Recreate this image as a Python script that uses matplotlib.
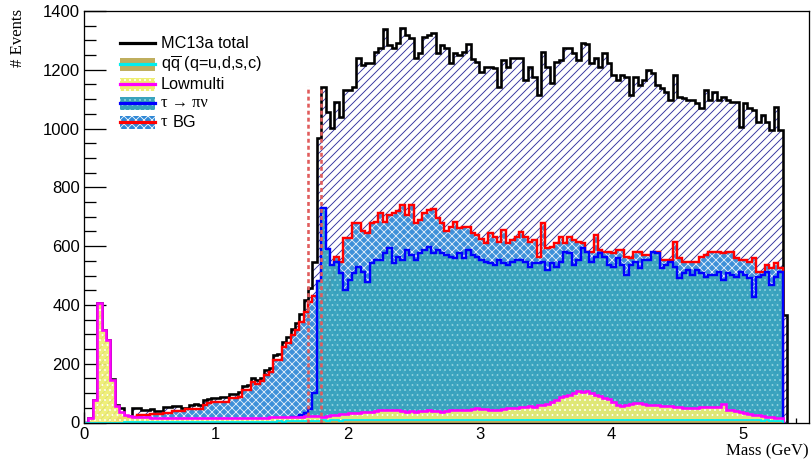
import numpy as np
import matplotlib
matplotlib.use("Agg")
import matplotlib.pyplot as plt
from matplotlib.patches import Rectangle
from matplotlib.lines import Line2D
from matplotlib.ticker import MultipleLocator

DPI = 120
W_PX, H_PX = 811, 466


def pt(px):
    """pixels -> points at the output resolution"""
    return px * 72.0 / DPI


# ---------------------------------------------------------------- data
BIN_WIDTH = 1.0 / 30.0   # GeV
X_MAX = 5.5
Y_MAX = 1400

# MC13a total (black outline, hatched)
total = [
    0, 14, 77, 408, 315, 281, 148, 60, 48, 22,
    22, 48, 48, 42, 42, 45, 40, 40, 54, 54,
    56, 56, 51, 51, 59, 62, 59, 75, 80, 85,
    84, 86, 86, 96, 98, 104, 124, 126, 152, 146,
    150, 178, 186, 230, 232, 275, 290, 318, 338, 368,
    417, 457, 547, 967, 1142, 1057, 1001, 1091, 1040, 1131,
    1131, 1142, 1239, 1216, 1222, 1222, 1262, 1273, 1338, 1284,
    1273, 1290, 1341, 1318, 1307, 1239, 1256, 1313, 1318, 1324,
    1256, 1284, 1273, 1222, 1256, 1250, 1262, 1288, 1235, 1228,
    1194, 1211, 1211, 1205, 1142, 1233, 1211, 1239, 1239, 1239,
    1165, 1211, 1177, 1114, 1262, 1210, 1154, 1228, 1233, 1273,
    1273, 1256, 1233, 1290, 1288, 1222, 1239, 1211, 1256, 1222,
    1182, 1165, 1182, 1177, 1114, 1177, 1148, 1165, 1199, 1188,
    1148, 1137, 1126, 1097, 1182, 1108, 1103, 1097, 1097, 1086,
    1069, 1131, 1097, 1126, 1097, 1108, 1097, 1091, 1091, 1006,
    1086, 1069, 1063, 1023, 1046, 1023, 995, 1075, 995, 365,
]

# q qbar (q=u,d,s,c)
qqbar = [
    0, 0, 0, 0, 0, 0, 0, 0, 0, 1,
    1, 1, 1, 1, 2, 1, 1, 2, 1, 2,
    2, 1, 2, 2, 2, 1, 2, 2, 2, 2,
    2, 2, 3, 2, 2, 3, 2, 3, 3, 2,
    3, 3, 3, 3, 4, 3, 4, 4, 4, 5,
    4, 5, 5, 6, 7, 6, 7, 7, 6, 7,
    8, 7, 7, 8, 7, 8, 8, 7, 8, 8,
    7, 8, 8, 8, 7, 8, 9, 8, 8, 8,
    9, 8, 8, 9, 8, 8, 9, 8, 9, 8,
    8, 9, 8, 8, 9, 8, 8, 9, 8, 8,
    8, 9, 8, 8, 9, 8, 8, 8, 9, 8,
    8, 9, 8, 8, 8, 8, 9, 8, 8, 8,
    8, 8, 9, 8, 8, 8, 8, 8, 8, 8,
    8, 7, 8, 8, 8, 8, 7, 8, 8, 8,
    7, 8, 8, 7, 8, 7, 8, 7, 7, 8,
    7, 7, 7, 7, 6, 7, 6, 6, 6,
]

# Lowmulti
lowmulti = [
    0, 14, 77, 408, 315, 281, 145, 55, 35, 25,
    22, 20, 20, 18, 18, 17, 17, 16, 16, 16,
    15, 15, 15, 15, 14, 14, 14, 14, 14, 14,
    14, 15, 15, 15, 15, 15, 15, 16, 16, 16,
    17, 17, 18, 18, 18, 19, 19, 20, 20, 20,
    21, 22, 22, 23, 20, 22, 25, 27, 28, 30,
    31, 31, 33, 35, 36, 37, 40, 42, 42, 43,
    42, 41, 38, 37, 38, 37, 38, 40, 42, 40,
    38, 37, 40, 42, 42, 44, 43, 44, 46, 48,
    47, 45, 44, 42, 44, 46, 48, 50, 49, 52,
    54, 55, 54, 58, 59, 62, 71, 78, 88, 90,
    92, 100, 108, 105, 108, 100, 94, 90, 85, 80,
    71, 60, 56, 58, 62, 65, 66, 64, 60, 58,
    59, 57, 56, 55, 54, 53, 50, 48, 49, 51,
    52, 54, 54, 53, 54, 62, 44, 42, 38, 36,
    33, 30, 27, 24, 22, 20, 18, 17, 15,
]

# tau -> pi nu
tau_pinu = [
    0, 0, 0, 0, 0, 0, 0, 0, 0, 0,
    0, 0, 0, 0, 0, 0, 0, 0, 0, 0,
    0, 0, 0, 0, 0, 0, 0, 0, 0, 0,
    0, 0, 0, 0, 0, 0, 0, 0, 0, 0,
    0, 0, 0, 3, 5, 8, 12, 18, 20, 25,
    31, 45, 100, 480, 729, 590, 536, 547, 507, 451,
    485, 507, 530, 513, 479, 541, 553, 553, 575, 593,
    541, 564, 553, 587, 570, 553, 575, 587, 598, 575,
    587, 575, 570, 564, 558, 575, 558, 587, 570, 564,
    553, 547, 541, 536, 553, 541, 536, 547, 553, 553,
    547, 530, 541, 541, 547, 519, 541, 530, 547, 581,
    575, 536, 553, 593, 581, 547, 564, 575, 564, 536,
    530, 558, 536, 502, 536, 547, 524, 553, 553, 581,
    575, 524, 536, 547, 530, 491, 507, 519, 502, 519,
    507, 496, 502, 502, 513, 485, 507, 502, 496, 513,
    502, 491, 428, 496, 502, 513, 468, 496, 513,
]

# tau background
tau_bg = [
    0, 0, 0, 0, 0, 0, 0, 10, 15, 15,
    15, 20, 25, 25, 25, 28, 28, 28, 33, 33,
    40, 40, 40, 45, 45, 47, 47, 60, 66, 71,
    71, 71, 71, 83, 83, 88, 110, 110, 139, 130,
    140, 162, 171, 213, 213, 258, 270, 298, 315, 343,
    377, 411, 430, 425, 420, 450, 490, 564, 547, 627,
    627, 678, 678, 650, 644, 680, 683, 712, 683, 706,
    712, 720, 740, 706, 740, 678, 689, 712, 723, 728,
    695, 678, 650, 666, 683, 661, 666, 666, 644, 638,
    625, 610, 644, 632, 615, 655, 610, 621, 632, 649,
    632, 615, 621, 564, 678, 593, 598, 610, 632, 610,
    632, 621, 615, 610, 581, 581, 638, 587, 581, 581,
    575, 587, 587, 564, 558, 581, 581, 570, 570, 570,
    581, 553, 553, 553, 615, 558, 547, 547, 547, 547,
    564, 570, 581, 581, 581, 575, 581, 581, 558, 553,
    553, 547, 558, 513, 513, 536, 524, 541, 524,
]

# mass-window markers (GeV) and their height
cut_lines = [1.70, 1.80]
cut_height = 1145

legend_labels = ["MC13a total", "q$\\overline{\\mathrm{q}}$ (q=u,d,s,c)",
                 "Lowmulti", "\u03c4 \u2192 \u03c0\u03bd", "\u03c4"]

# ---------------------------------------------------------------- style
plt.rcParams["font.family"] = ["Liberation Sans", "DejaVu Sans"]
plt.rcParams["mathtext.fontset"] = "custom"
plt.rcParams["mathtext.rm"] = "Liberation Sans"
plt.rcParams["mathtext.it"] = "Liberation Sans:italic"
plt.rcParams["hatch.linewidth"] = 0.55

HATCH_NAVY = "#34349f"
C_BG_FILL = "#2f88d6"
C_PINU_FILL = "#38a3bd"
C_LOW_FILL = "#eeee70"
C_QQ_FILL = "#bfae5e"
C_RED, C_BLUE, C_MAG, C_CYAN = "#ff0000", "#0000ff", "#ff00ff", "#00eeee"
C_CUT = "#e05c5c"

# fill styles shared by the plot and the legend boxes
STYLE_BG = dict(facecolor=C_BG_FILL, edgecolor="#e8f2fb", hatch="xxxxx")
STYLE_PINU = dict(facecolor=C_PINU_FILL, edgecolor="#8fd3df", hatch="....")
STYLE_LOW = dict(facecolor=C_LOW_FILL, edgecolor="#ffffff", hatch="....")
STYLE_QQ = dict(facecolor=C_QQ_FILL, edgecolor=C_QQ_FILL, hatch=None)

fig = plt.figure(figsize=(W_PX / DPI, H_PX / DPI), dpi=DPI)
ax = fig.add_axes([84 / W_PX, 1 - 422.5 / H_PX,
                   (809 - 84) / W_PX, (422.5 - 11) / H_PX])


def edges_for(vals):
    return np.arange(len(vals) + 1) * BIN_WIDTH


LW = pt(2.4)

# total: hatched body, outline
ax.stairs(total, edges_for(total), fill=True, facecolor="none",
          edgecolor=HATCH_NAVY, hatch="/////", linewidth=0, zorder=1)
ax.stairs(total, edges_for(total), color="black", linewidth=pt(2.6), zorder=1.5)

# tau background
ax.stairs(tau_bg, edges_for(tau_bg), fill=True, linewidth=0, alpha=0.93,
          zorder=2, **STYLE_BG)
ax.stairs(tau_bg, edges_for(tau_bg), color=C_RED, linewidth=LW, zorder=2.1)

# tau -> pi nu
ax.stairs(tau_pinu, edges_for(tau_pinu), fill=True, linewidth=0, alpha=0.95,
          zorder=3, **STYLE_PINU)
ax.stairs(tau_pinu, edges_for(tau_pinu), color=C_BLUE, linewidth=LW, zorder=3.1)

# Lowmulti
ax.stairs(lowmulti, edges_for(lowmulti), fill=True, linewidth=0, alpha=0.92,
          zorder=4, **STYLE_LOW)
ax.stairs(lowmulti, edges_for(lowmulti), color=C_MAG, linewidth=pt(2.6), zorder=4.1)

# q qbar
ax.stairs(qqbar, edges_for(qqbar), fill=True, linewidth=0, zorder=5, **STYLE_QQ)
ax.stairs(qqbar, edges_for(qqbar), color=C_CYAN, linewidth=pt(1.8), zorder=5.1)

# mass-window markers
for xc in cut_lines:
    ax.plot([xc, xc], [0, cut_height], color=C_CUT, linewidth=pt(2.6),
            linestyle=(0, (1.5, 1.2)), zorder=6)

# ---------------------------------------------------------------- axes
ax.set_xlim(0, X_MAX)
ax.set_ylim(0, Y_MAX)
ax.xaxis.set_major_locator(MultipleLocator(1))
ax.xaxis.set_minor_locator(MultipleLocator(0.2))
ax.yaxis.set_major_locator(MultipleLocator(200))
ax.yaxis.set_minor_locator(MultipleLocator(50))
ax.tick_params(axis="both", which="both", direction="in",
               top=False, right=False, width=pt(1.3), colors="black")
ax.tick_params(axis="y", which="major", length=pt(22), pad=pt(4),
               labelsize=pt(16.6))
ax.tick_params(axis="y", which="minor", length=pt(11.5))
ax.tick_params(axis="x", which="major", length=pt(11), pad=pt(4.5),
               labelsize=pt(16.6))
ax.tick_params(axis="x", which="minor", length=pt(5.5))
for s in ax.spines.values():
    s.set_linewidth(pt(1.3))
    s.set_zorder(7)

serif = ["Liberation Serif", "DejaVu Serif"]
ax.set_xlabel("Mass (GeV)", fontfamily=serif, fontsize=pt(16.7), loc="right")
ax.xaxis.set_label_coords(1.0, -(443 - 422.5) / 411.5)
fig.text(17.5 / W_PX, 1 - 9 / H_PX, "# Events", rotation=90, ha="center",
         va="top", fontfamily=serif, fontsize=pt(16.7))

# ---------------------------------------------------------------- legend
def fx(px):
    return px / W_PX


def fy(py):
    return 1 - py / H_PX


rows = [43.3, 64.3, 84.3, 103.3, 122.3]
bx0, bx1, bh = 119.5, 155.0, 12.7
boxes = [None, STYLE_QQ, STYLE_LOW, STYLE_PINU, STYLE_BG]
line_cols = ["black", C_CYAN, C_MAG, C_BLUE, C_RED]
for row, box, lc in zip(rows, boxes, line_cols):
    if box is not None:
        r = Rectangle((fx(bx0), fy(row + bh / 2)), fx(bx1) - fx(bx0),
                      (bh / H_PX), transform=fig.transFigure, linewidth=0,
                      **box)
        fig.add_artist(r)
    fig.add_artist(Line2D([fx(bx0), fx(bx1)], [fy(row), fy(row)],
                          transform=fig.transFigure, color=lc,
                          linewidth=pt(3.2)))

txt_kw = dict(va="center", ha="left", fontsize=pt(16.2))
fig.text(fx(161), fy(rows[0]), legend_labels[0], **txt_kw)
fig.text(fx(161), fy(rows[1]), legend_labels[1], **txt_kw)
fig.text(fx(161), fy(rows[2]), legend_labels[2], **txt_kw)
fig.text(fx(161), fy(rows[3]), legend_labels[3], fontfamily=serif, **txt_kw)
fig.text(fx(161), fy(rows[4]), legend_labels[4], fontfamily=serif, **txt_kw)
fig.text(fx(172.5), fy(rows[4]), "BG", **txt_kw)

fig.savefig("out.png", dpi=DPI)
